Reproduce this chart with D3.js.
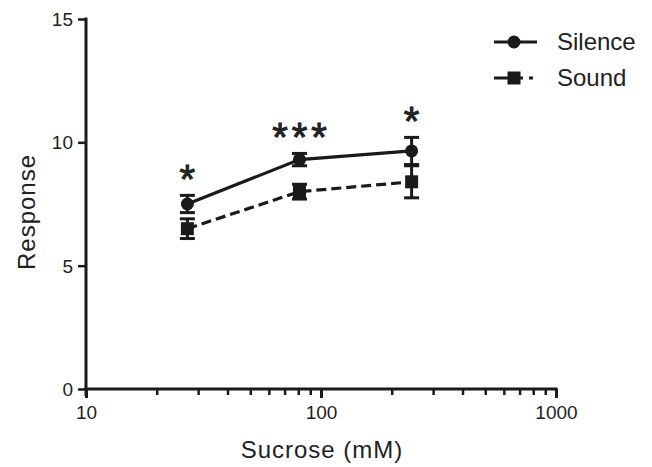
<!DOCTYPE html>
<html><head><meta charset="utf-8">
<script src="https://cdn.jsdelivr.net/npm/d3@7"></script>
<style>body{margin:0;background:#fff;}svg{display:block;}text{font-family:"Liberation Sans",Arial,sans-serif;fill:#222;}</style>
</head><body><svg id="c" width="652" height="467"></svg>
<script>
const sucrose = [27, 81, 243];
const silence = [7.5, 9.3, 9.65];
const silenceErr = [0.35, 0.25, 0.55];
const sound = [6.5, 8.0, 8.4];
const soundErr = [0.4, 0.3, 0.65];
const stars = ["*", "***", "*"];
const yTicks = [0, 5, 10, 15];
const xTicks = [10, 100, 1000];

const svg = d3.select("#c");
const x = d3.scaleLog().domain([10, 1000]).range([86, 556]);
const y = d3.scaleLinear().domain([0, 15]).range([389, 19]);
const ink = "#1a1a1a";

// y axis
const ya = svg.append("g").attr("transform", "translate(86,0)")
  .call(d3.axisLeft(y).tickValues(yTicks).tickSize(8).tickPadding(5).tickFormat(d3.format("d")));
ya.select(".domain").attr("stroke", ink).attr("stroke-width", 3).attr("d", "M0,17.5V396");
ya.selectAll(".tick line").attr("stroke", ink).attr("stroke-width", 2.5);
ya.selectAll(".tick text").style("font-size", "19px").attr("dy", "0.35em").attr("fill", "#333");

// x axis
const minor = [];
[10, 100].forEach(b => { for (let k = 2; k <= 9; k++) minor.push(b * k); });
const xa = svg.append("g").attr("transform", "translate(0,389)");
xa.append("g").call(d3.axisBottom(x).tickValues(minor).tickSize(6).tickFormat(""))
  .call(g => g.select(".domain").remove())
  .selectAll(".tick line").attr("stroke", ink).attr("stroke-width", 2.5);
const xm = xa.append("g").call(d3.axisBottom(x).tickValues(xTicks).tickSize(9).tickPadding(8).tickFormat(d3.format("d")));
xm.select(".domain").attr("stroke", ink).attr("stroke-width", 3).attr("d", "M84.5,0H557.5");
xm.selectAll(".tick line").attr("stroke", ink).attr("stroke-width", 3);
xm.selectAll(".tick text").style("font-size", "19px").attr("fill", "#333");

// axis titles
svg.append("text").attr("transform", "translate(35,212) rotate(-90)").attr("text-anchor", "middle")
  .style("font-size", "24px").style("letter-spacing", "1px").text("Response");
svg.append("text").attr("x", 322).attr("y", 458).attr("text-anchor", "middle")
  .style("font-size", "24px").style("letter-spacing", "1px").text("Sucrose (mM)");

const line = d3.line().x(d => x(d[0])).y(d => y(d[1]));
function series(vals, errs, dash, marker) {
  const pts = sucrose.map((s, i) => [s, vals[i], errs[i]]);
  svg.append("path").datum(pts).attr("d", line).attr("fill", "none").attr("stroke", ink)
    .attr("stroke-width", 3.2).attr("stroke-dasharray", dash);
  const g = svg.append("g").attr("stroke", ink).attr("stroke-width", 3);
  pts.forEach(p => {
    const cx = x(p[0]);
    g.append("line").attr("x1", cx).attr("x2", cx).attr("y1", y(p[1] + p[2])).attr("y2", y(p[1] - p[2]));
    [p[1] + p[2], p[1] - p[2]].forEach(v => g.append("line").attr("x1", cx - 7.5).attr("x2", cx + 7.5).attr("y1", y(v)).attr("y2", y(v)));
    if (marker === "circle") svg.append("circle").attr("cx", cx).attr("cy", y(p[1])).attr("r", 6.5).attr("fill", ink);
    else svg.append("rect").attr("x", cx - 6.5).attr("y", y(p[1]) - 6.5).attr("width", 13).attr("height", 13).attr("fill", ink);
  });
}
series(sound, soundErr, "10,5", "square");
series(silence, silenceErr, null, "circle");

// significance stars
const fs = 40;
sucrose.forEach((s, i) => {
  const top = Math.max(silence[i] + silenceErr[i], sound[i] + soundErr[i]);
  svg.append("text").attr("x", x(s) + 2).attr("y", y(top) - 26 + 0.58 * fs).attr("text-anchor", "middle")
    .style("font-size", fs + "px").style("letter-spacing", "4px")
    .attr("stroke", "#222").attr("stroke-width", 1).text(stars[i]);
});

// legend
const leg = [{name: "Silence", dash: null, m: "circle", yy: 42}, {name: "Sound", dash: "29,6,4", m: "square", yy: 78}];
leg.forEach(l => {
  svg.append("path").attr("d", `M494,${l.yy}H537`).attr("stroke", ink).attr("stroke-width", 3.2)
    .attr("stroke-dasharray", l.dash).attr("fill", "none");
  if (l.m === "circle") svg.append("circle").attr("cx", 514).attr("cy", l.yy).attr("r", 6.5).attr("fill", ink);
  else svg.append("rect").attr("x", 507.5).attr("y", l.yy - 6.5).attr("width", 13).attr("height", 13).attr("fill", ink);
  svg.append("text").attr("x", 557).attr("y", l.yy).attr("dy", "0.35em").style("font-size", "24px").text(l.name);
});
</script></body></html>
